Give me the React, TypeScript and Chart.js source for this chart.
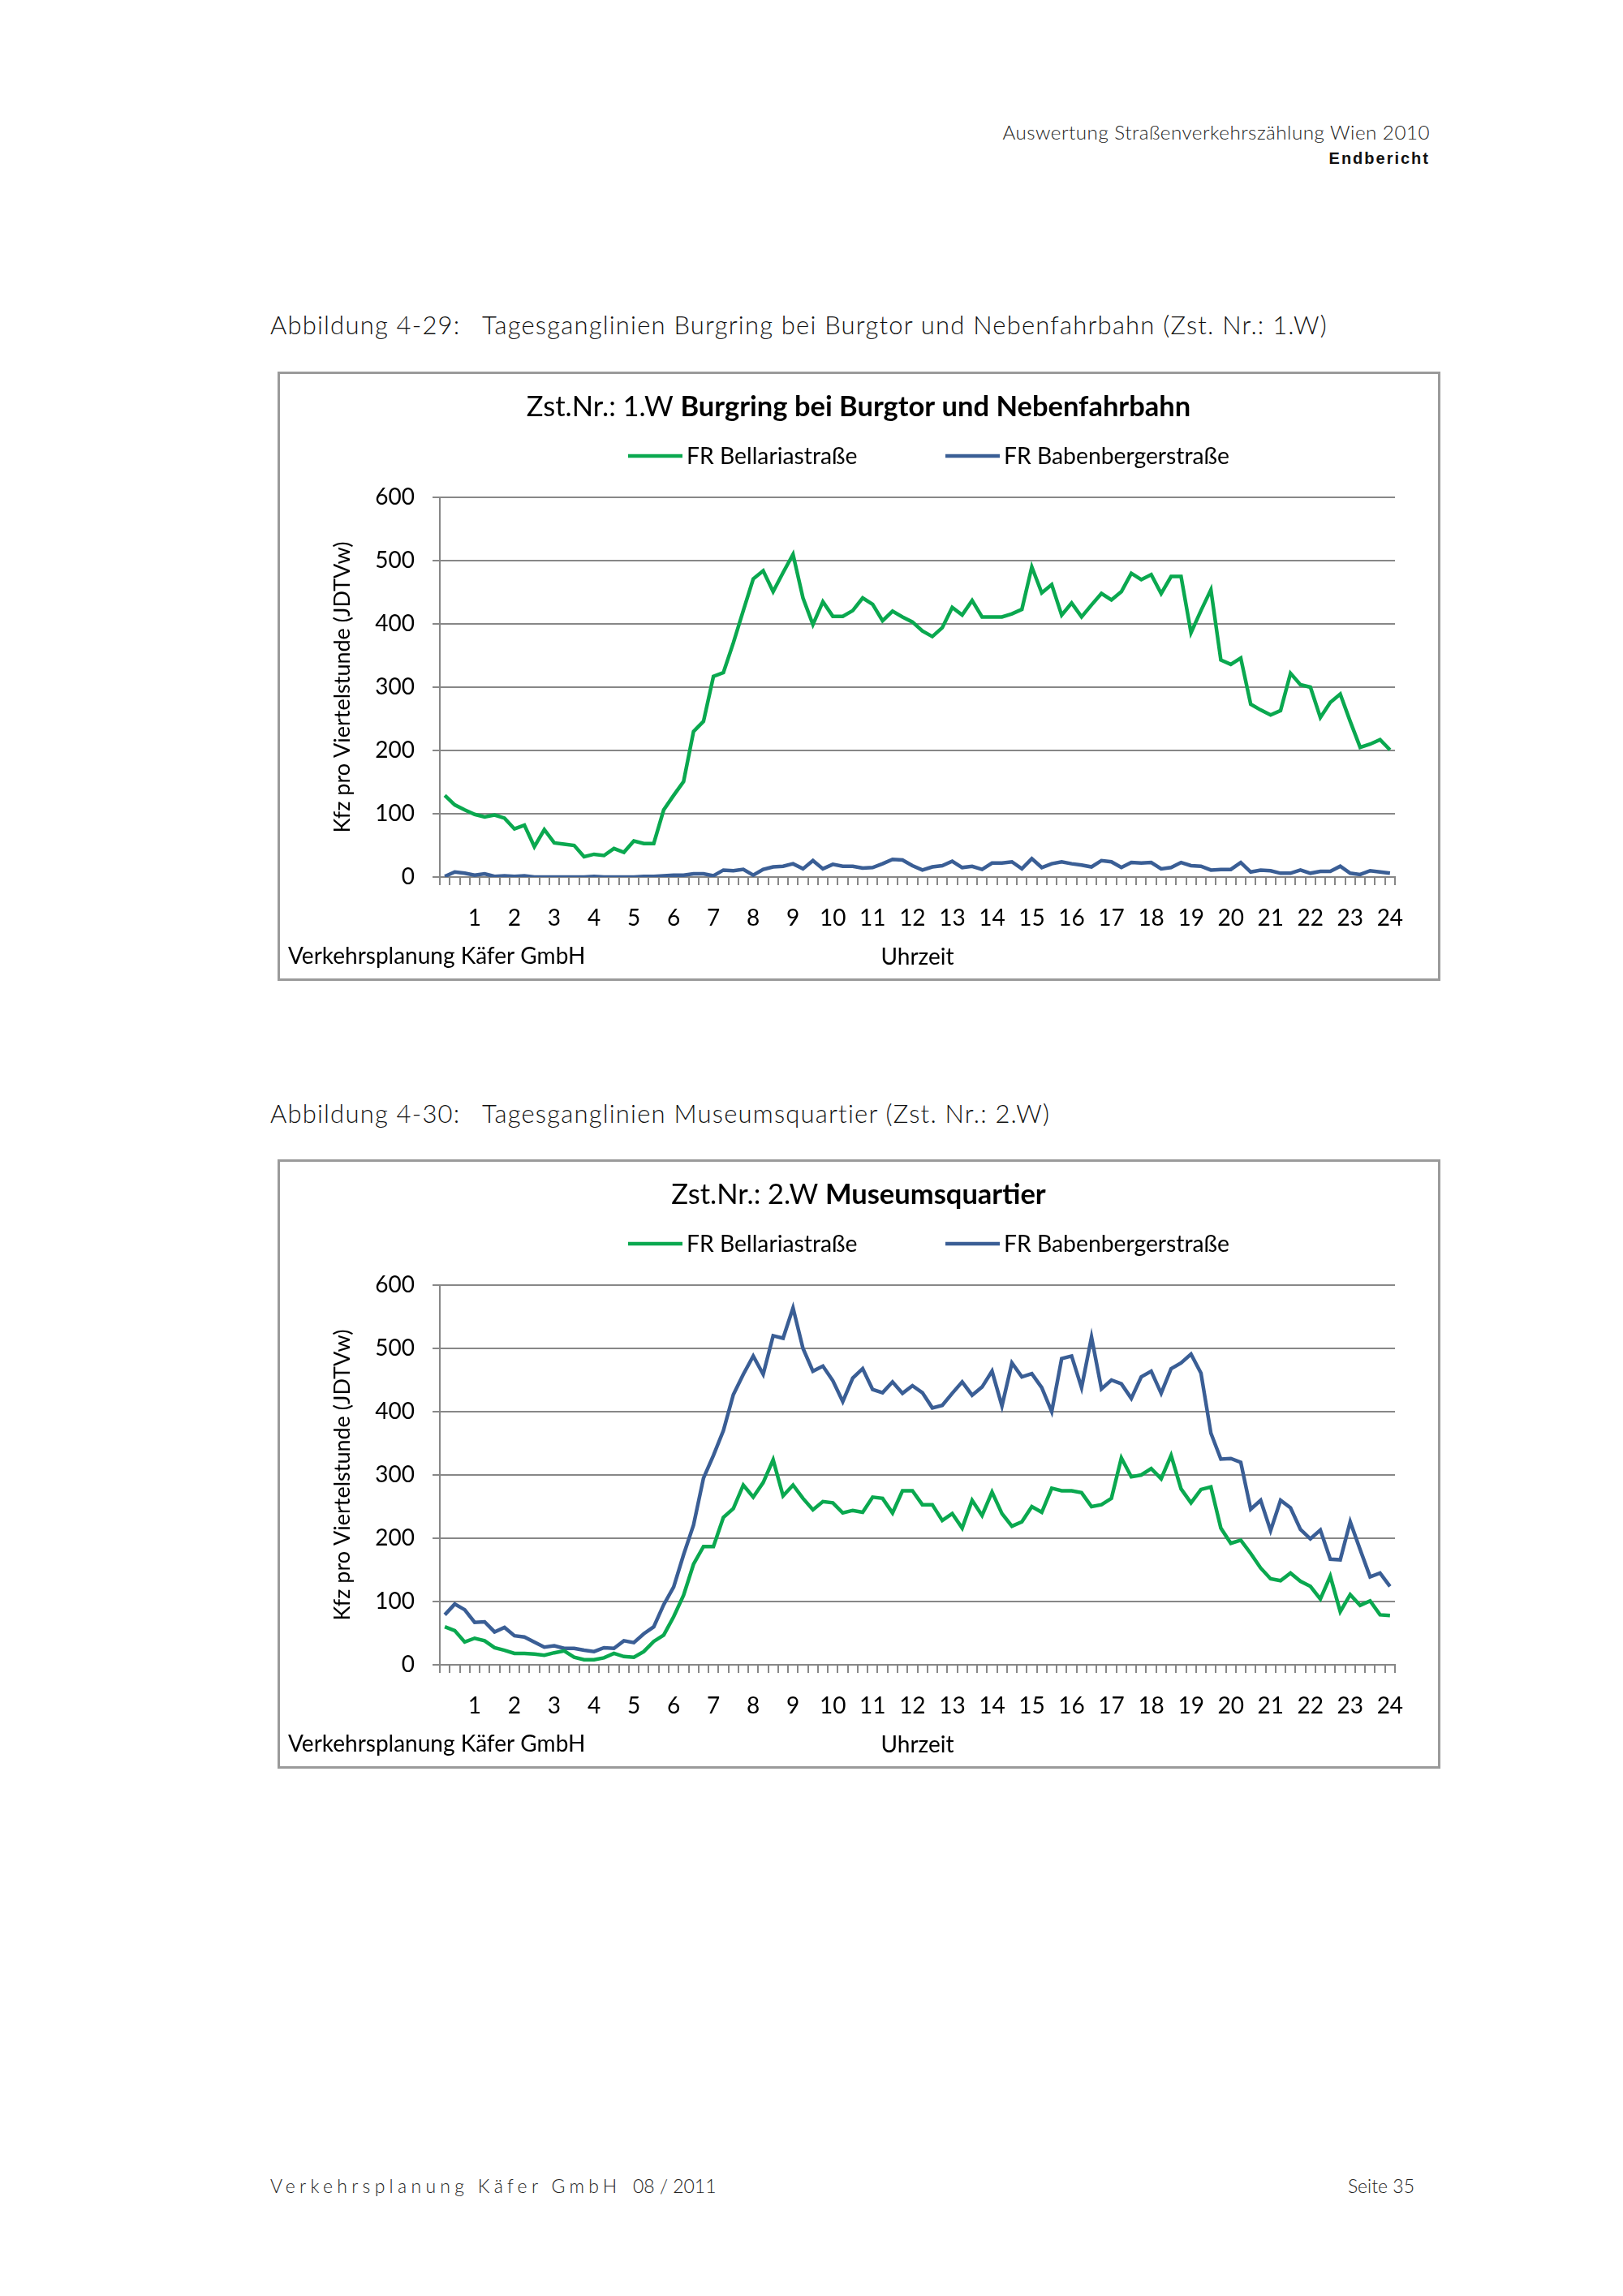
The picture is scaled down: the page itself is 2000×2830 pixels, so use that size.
import React, { useEffect, useRef } from 'react';
import { Chart, registerables } from 'chart.js';

Chart.register(...registerables);

// ---------- data ----------
const hourLabels = ['1', '2', '3', '4', '5', '6', '7', '8', '9', '10', '11', '12', '13', '14', '15', '16', '17', '18', '19', '20', '21', '22', '23', '24'];
const quarterSuffixes = [':15', ':30', ':45', ':00'];
const seriesNames = ['FR Bellariastraße', 'FR Babenbergerstraße'];

const burgringBellaria = [
  129, 114, 106, 99, 95, 98, 93, 76, 82, 48, 75, 54, 52, 50, 32, 36, 34, 45, 39, 57, 53, 53, 106, 129,
  151, 230, 246, 317, 323, 370, 421, 471, 484, 451, 481, 510, 441, 399, 435, 412, 412, 421, 441, 431, 405, 420, 411, 403,
  389, 380, 394, 426, 414, 437, 411, 411, 411, 416, 423, 490, 449, 462, 414, 433, 411, 430, 448, 438, 451, 480, 470, 478,
  448, 475, 475, 386, 421, 454, 343, 336, 346, 273, 264, 256, 263, 322, 304, 300, 252, 276, 289, 246, 205, 210, 217, 201,
];
const burgringBabenberger = [
  1, 8, 6, 3, 5, 1, 2, 1, 2, 0, 0, 0, 0, 0, 0, 1, 0, 0, 0, 0, 1, 1, 2, 3,
  3, 5, 5, 2, 11, 10, 12, 3, 12, 16, 17, 21, 13, 26, 13, 20, 17, 17, 14, 15, 21, 28, 27, 18,
  11, 16, 18, 25, 15, 17, 12, 22, 22, 24, 13, 29, 15, 21, 24, 21, 19, 16, 26, 24, 15, 23, 22, 23,
  13, 15, 23, 18, 17, 11, 12, 12, 23, 8, 11, 10, 6, 6, 11, 6, 9, 9, 17, 6, 4, 10, 8, 6,
];
const museumBellaria = [
  60, 54, 36, 42, 38, 27, 23, 18, 18, 17, 15, 19, 22, 12, 8, 8, 11, 18, 13, 12, 21, 37, 47, 76,
  110, 159, 187, 187, 233, 247, 284, 265, 288, 324, 267, 284, 263, 245, 258, 256, 240, 244, 241, 265, 263, 240, 275, 275,
  253, 253, 228, 239, 216, 260, 236, 273, 239, 219, 226, 250, 241, 279, 275, 275, 272, 250, 253, 263, 327, 297, 300, 310,
  294, 331, 278, 256, 277, 281, 216, 192, 197, 176, 153, 136, 133, 145, 132, 124, 104, 140, 84, 111, 94, 101, 79, 78,
];
const museumBabenberger = [
  79, 96, 87, 67, 68, 52, 59, 46, 44, 36, 28, 30, 26, 26, 23, 21, 27, 26, 38, 35, 49, 60, 95, 123,
  174, 221, 295, 331, 370, 427, 459, 488, 459, 520, 516, 564, 500, 464, 472, 449, 416, 453, 468, 435, 430, 447, 429, 441,
  430, 406, 410, 429, 447, 426, 439, 464, 409, 477, 455, 460, 438, 400, 484, 488, 438, 518, 436, 450, 444, 421, 455, 464,
  429, 468, 477, 491, 461, 366, 325, 326, 320, 246, 260, 212, 260, 248, 214, 199, 213, 167, 166, 226, 182, 139, 145, 124,
];

const yMin = 0;
const yMax = 600;
const yStep = 100;

const quarterCategories = hourLabels.flatMap((h, k) =>
  quarterSuffixes.map((s, q) => (q === 3 ? `${h}${s}` : `${k}${s}`))
);

// ---------- styles ----------
const GREEN = '#0aa84f';
const BLUE = '#3a5e95';
const GRID = '#878787';
const CHART_FONT = 'Lato, "Open Sans", sans-serif';
const PAGE_FONT = 'Lato, "DejaVu Sans", sans-serif';

const CANVAS_W = 1427;
const CANVAS_H = 745;

const decorPlugin = {
  id: 'decor',
  afterDraw(chart: any, _args: any, opts: any) {
    const { ctx } = chart;
    ctx.save();
    ctx.fillStyle = '#000';
    ctx.textBaseline = 'middle';
    // title with mixed weights
    ctx.font = `400 ${opts.titleSize}px ${CHART_FONT}`;
    const w1 = ctx.measureText(opts.titleRegular).width;
    ctx.font = `700 ${opts.titleSize}px ${CHART_FONT}`;
    const w2 = ctx.measureText(opts.titleBold).width;
    const x0 = opts.titleX - (w1 + w2) / 2;
    ctx.font = `400 ${opts.titleSize}px ${CHART_FONT}`;
    ctx.textAlign = 'left';
    ctx.fillText(opts.titleRegular, x0, opts.titleY);
    ctx.font = `700 ${opts.titleSize}px ${CHART_FONT}`;
    ctx.fillText(opts.titleBold, x0 + w1, opts.titleY);
    // legend
    ctx.font = `400 ${opts.legendSize}px ${CHART_FONT}`;
    chart.data.datasets.forEach((ds: any, i: number) => {
      const lx = opts.legendX[i];
      ctx.strokeStyle = ds.borderColor;
      ctx.lineWidth = ds.borderWidth;
      ctx.beginPath();
      ctx.moveTo(lx, opts.legendY);
      ctx.lineTo(lx + opts.legendLine, opts.legendY);
      ctx.stroke();
      ctx.fillText(ds.label, lx + opts.legendLine + 5, opts.legendY + 1);
    });
    // source note
    ctx.font = `400 ${opts.noteSize}px ${CHART_FONT}`;
    ctx.fillText(opts.note, opts.noteX, opts.noteY);
    ctx.restore();
  },
};

function ChartBox(props: { top: number; titleRegular: string; titleBold: string; bellaria: number[]; babenberger: number[] }) {
  const ref = useRef<HTMLCanvasElement>(null);
  useEffect(() => {
    const chart = new Chart(ref.current as HTMLCanvasElement, {
      type: 'line',
      data: {
        labels: quarterCategories,
        datasets: [
          { label: seriesNames[0], data: props.bellaria, borderColor: GREEN, backgroundColor: GREEN, borderWidth: 4.5, pointRadius: 0, tension: 0, fill: false },
          { label: seriesNames[1], data: props.babenberger, borderColor: BLUE, backgroundColor: BLUE, borderWidth: 4.5, pointRadius: 0, tension: 0, fill: false },
        ],
      },
      options: {
        responsive: false,
        animation: false,
        devicePixelRatio: 1,
        font: { family: CHART_FONT },
        layout: { padding: { top: 152, right: 53, left: 0, bottom: 0 } },
        plugins: {
          legend: { display: false },
          tooltip: { enabled: false },
          title: { display: false },
          decor: {
            titleRegular: props.titleRegular,
            titleBold: props.titleBold,
            titleSize: 34.5,
            titleX: 713,
            titleY: 41,
            legendSize: 28.3,
            legendX: [429, 820],
            legendY: 101,
            legendLine: 67,
            note: 'Verkehrsplanung Käfer GmbH',
            noteSize: 28,
            noteX: 10,
            noteY: 718,
          },
        } as any,
        scales: {
          x: {
            type: 'category',
            offset: true,
            grid: { display: true, drawOnChartArea: false, drawTicks: true, tickLength: 10, offset: true, color: GRID, lineWidth: 2 },
            border: { display: true, color: GRID, width: 2 },
            ticks: {
              autoSkip: false,
              maxRotation: 0,
              minRotation: 0,
              padding: 24,
              color: '#000',
              font: { size: 28, family: CHART_FONT },
              callback: (_v: any, i: number) => (i % 4 === 3 ? hourLabels[(i - 3) / 4] : ''),
            },
            title: { display: true, text: 'Uhrzeit', color: '#000', font: { size: 28, family: CHART_FONT }, padding: { top: 0, bottom: 9 } },
            afterFit: (s: any) => { s.height = 125; },
          },
          y: {
            min: yMin,
            max: yMax,
            ticks: { stepSize: yStep, padding: 22, color: '#000', font: { size: 28, family: CHART_FONT } },
            grid: { color: GRID, lineWidth: 2, tickLength: 9 },
            border: { display: true, color: GRID, width: 2 },
            title: { display: true, text: 'Kfz pro Viertelstunde (JDTVw)', color: '#000', font: { size: 27, family: CHART_FONT }, padding: { top: 61, bottom: 0 } },
            afterFit: (s: any) => { s.width = 197; },
          },
        },
      } as any,
      plugins: [decorPlugin as any],
    });
    return () => chart.destroy();
  }, []);
  return (
    <div style={{ position: 'absolute', left: 342, top: props.top, width: CANVAS_W, height: CANVAS_H, border: '3px solid #9a9a9a', background: '#fff' }}>
      <canvas ref={ref} width={CANVAS_W} height={CANVAS_H} style={{ display: 'block', width: CANVAS_W, height: CANVAS_H }} />
    </div>
  );
}

const textBase: React.CSSProperties = { position: 'absolute', whiteSpace: 'nowrap', lineHeight: 1, color: '#111' };
const captionStyle: React.CSSProperties = { ...textBase, fontFamily: PAGE_FONT, fontWeight: 300, fontSize: 31, letterSpacing: 1.2 };

export default function App() {
  return (
    <div style={{ position: 'relative', width: 2000, height: 2830, background: '#fff', overflow: 'hidden' }}>
      <style>{'body{margin:0;}'}</style>
      <div style={{ ...textBase, right: 238, top: 151, fontFamily: PAGE_FONT, fontWeight: 300, fontSize: 24.2, letterSpacing: 0.5, color: '#222' }}>
        Auswertung Straßenverkehrszählung Wien 2010
      </div>
      <div style={{ ...textBase, right: 238, top: 185, fontFamily: '"Liberation Sans Narrow", "Liberation Sans", Arial, sans-serif', fontWeight: 700, fontSize: 20, letterSpacing: 2 }}>
        Endbericht
      </div>

      <div style={{ ...captionStyle, left: 333, top: 385 }}>Abbildung 4-29:</div>
      <div style={{ ...captionStyle, left: 594, top: 385 }}>
        Tagesganglinien Burgring bei Burgtor und Nebenfahrbahn (Zst. Nr.: 1.W)
      </div>
      <ChartBox top={458} titleRegular="Zst.Nr.: 1.W " titleBold="Burgring bei Burgtor und Nebenfahrbahn" bellaria={burgringBellaria} babenberger={burgringBabenberger} />

      <div style={{ ...captionStyle, left: 333, top: 1357 }}>Abbildung 4-30:</div>
      <div style={{ ...captionStyle, left: 594, top: 1357 }}>
        Tagesganglinien Museumsquartier (Zst. Nr.: 2.W)
      </div>
      <ChartBox top={1429} titleRegular="Zst.Nr.: 2.W " titleBold="Museumsquartier" bellaria={museumBellaria} babenberger={museumBabenberger} />

      <div style={{ ...textBase, left: 333, top: 2683, fontFamily: PAGE_FONT, fontWeight: 300, fontSize: 23, letterSpacing: 5.3, color: '#222' }}>
        Verkehrsplanung Käfer GmbH
      </div>
      <div style={{ ...textBase, left: 780, top: 2683, fontFamily: PAGE_FONT, fontWeight: 300, fontSize: 23, color: '#222' }}>08 / 2011</div>
      <div style={{ ...textBase, right: 257, top: 2683, fontFamily: PAGE_FONT, fontWeight: 300, fontSize: 23, color: '#222' }}>Seite 35</div>
    </div>
  );
}
